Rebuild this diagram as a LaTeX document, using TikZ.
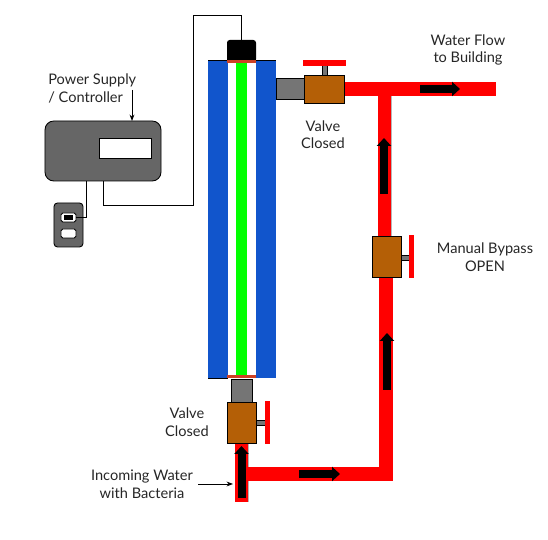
\documentclass[tikz,border=0pt]{standalone}
\usepackage{fontspec}
\setmainfont{Lato}
\usetikzlibrary{arrows.meta,positioning,calc}
\definecolor{tubeblue}{HTML}{1155CC}
\definecolor{valvebrown}{HTML}{B45F06}
\definecolor{bodygray}{HTML}{666666}
\definecolor{pipegray}{HTML}{757575}
\definecolor{lampred}{HTML}{CC4125}
\definecolor{edgegray}{HTML}{B7B7B7}
\begin{document}
\begin{tikzpicture}[
    part/.style={draw=none, inner sep=0pt, outer sep=0pt},
    box/.style={part, draw=black, line width=0.5pt},
    water/.style={part, fill=red},
    valve/.style={box, fill=valvebrown},
    fitting/.style={box, fill=pipegray},
    handle/.style={part, fill=red},
    lbl/.style={inner sep=0pt, align=center, text=black!85, font=\fontsize{8.3}{9.96}\selectfont},
    wire/.style={line width=0.5pt, black},
    arr/.style={-{Stealth[length=1.3mm]}, line width=0.5pt, black},
    flow/.style={-{Triangle[length=1.6mm,width=2.8mm]}, line width=1.6mm, black},
]
\useasboundingbox (0,0) rectangle (10.96,10.8);

% lamp column
\node[part, fill=tubeblue, minimum width=1.36cm, minimum height=6.36cm] (tube) at (4.84,6.42) {};
\node[part, fill=white, minimum width=0.56cm, minimum height=6.36cm] (sleeve) at (4.84,6.42) {};
\node[part, fill=green, minimum width=0.22cm, minimum height=6.36cm] (lamp) at (4.83,6.42) {};
\draw[wire] (tube.north west) -- (tube.north east);
\draw[wire] (tube.south west) -- (sleeve.south west);
\node[part, fill=black, rounded corners=1.5pt, minimum width=0.58cm, minimum height=0.44cm] (cap) at (4.83,9.78) {};
\node[part, fill=lampred, minimum width=0.58cm, minimum height=0.06cm] (topseal) at (4.83,9.57) {};
\node[part, fill=lampred, minimum width=0.58cm, minimum height=0.06cm] (botseal) at (4.83,3.27) {};

% controller
\node[box, fill=bodygray, rounded corners=5pt, minimum width=2.32cm, minimum height=1.2cm] (ctrl) at (2.06,7.78) {};
\node[box, fill=white, minimum width=1.04cm, minimum height=0.4cm] (screen) at (2.5,7.84) {};
\node[box, fill=bodygray, rounded corners=2pt, minimum width=0.58cm, minimum height=0.88cm] (plug) at (1.37,6.3) {};
\node[box, fill=white, rounded corners=1pt, minimum width=0.3cm, minimum height=0.18cm] (sockA) at (1.37,6.45) {};
\node[part, fill=black, minimum width=0.18cm, minimum height=0.1cm] (sockpin) at (1.37,6.45) {};
\node[box, fill=white, rounded corners=1pt, minimum width=0.3cm, minimum height=0.18cm] (sockB) at (1.37,6.13) {};
\coordinate (ctrlout) at (1.72,7.18);

\draw[wire] (cap.north) |- (3.86,10.5) |- (2.06,6.7) -- (ctrl.south);
\draw[wire] (ctrlout) |- (sockA.east);

% water lines
\node[water, minimum width=3.04cm, minimum height=0.28cm] (outpipe) at (8.4,9.02) {};
\node[water, minimum width=0.26cm, minimum height=2.8cm] (uppipe) at (7.69,7.48) {};
\node[water, minimum width=0.28cm, minimum height=4.08cm] (lowpipe) at (7.72,3.22) {};
\node[water, minimum width=0.26cm, minimum height=1.18cm] (inpipe) at (4.83,1.35) {};
\draw[edgegray, line width=0.5pt] (uppipe.north east) -- (uppipe.south east);
\draw[edgegray, line width=0.5pt] (inpipe.north east) -- (inpipe.south east);
\node[water, minimum width=2.9cm, minimum height=0.28cm] (botpipe) at (6.41,1.32) {};

% outlet valve
\node[fitting, minimum width=0.56cm, minimum height=0.42cm] (outfit) at (5.8,9.03) {};
\node[fitting, line width=0.4pt, minimum width=0.1cm, minimum height=0.2cm] (outstem) at (6.49,9.4) {};
\node[handle, minimum width=0.86cm, minimum height=0.12cm] (outhandle) at (6.49,9.54) {};
\node[valve, minimum width=0.8cm, minimum height=0.56cm] (outvalve) at (6.48,9.02) {};

% bypass valve
\node[fitting, line width=0.4pt, minimum width=0.18cm, minimum height=0.1cm] (bystem) at (8.11,5.65) {};
\node[handle, minimum width=0.1cm, minimum height=0.86cm] (byhandle) at (8.23,5.67) {};
\node[valve, minimum width=0.58cm, minimum height=0.82cm] (byvalve) at (7.73,5.67) {};

% inlet valve
\node[fitting, minimum width=0.42cm, minimum height=0.46cm] (infit) at (4.83,2.99) {};
\node[fitting, line width=0.4pt, minimum width=0.18cm, minimum height=0.1cm] (instem) at (5.21,2.35) {};
\node[handle, minimum width=0.1cm, minimum height=0.86cm] (inhandle) at (5.35,2.35) {};
\node[valve, minimum width=0.58cm, minimum height=0.82cm] (invalve) at (4.83,2.35) {};

% flow direction
\coordinate (flowAa) at (8.4,9.02);
\coordinate (flowAb) at (9.2,9.02);
\coordinate (flowBa) at (7.68,6.92);
\coordinate (flowBb) at (7.68,8.04);
\coordinate (flowCa) at (7.74,3.0);
\coordinate (flowCb) at (7.74,4.14);
\coordinate (flowDa) at (5.98,1.32);
\coordinate (flowDb) at (6.8,1.32);
\coordinate (flowEa) at (4.83,0.84);
\coordinate (flowEb) at (4.83,1.88);
\draw[flow] (flowAa) -- (flowAb);
\draw[flow] (flowBa) -- (flowBb);
\draw[flow] (flowCa) -- (flowCb);
\draw[flow] (flowDa) -- (flowDb);
\draw[flow] (flowEa) -- (flowEb);

% labels
\node[lbl, align=left, anchor=west] (pslabel) at (0.96,9.03) {Power Supply\\/ Controller};
\node[lbl] (outlabel) at (6.46,8.11) {Valve\\Closed};
\node[lbl] (inlabel) at (3.74,2.36) {Valve\\Closed};
\node[lbl] (bylabel) at (9.7,5.66) {Manual Bypass\\OPEN};
\node[lbl] (bldlabel) at (9.36,9.8) {Water Flow\\to Building};
\node[lbl] (waterlabel) at (2.84,1.12) {Incoming Water\\with Bacteria};

\coordinate (psarrow) at (2.64,9.0);
\draw[arr] (psarrow) -- (psarrow |- ctrl.north);
\draw[arr, shorten <=0.1cm, shorten >=0.04cm] (waterlabel.east) -- (waterlabel.east -| inpipe.west);
\end{tikzpicture}
\end{document}
